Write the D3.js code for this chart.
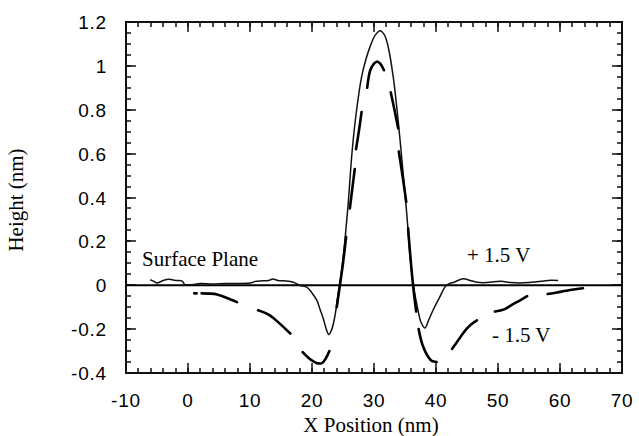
<!DOCTYPE html>
<html>
<head>
<meta charset="utf-8">
<script src="https://cdn.jsdelivr.net/npm/d3@7/dist/d3.min.js"></script>
<style>
  html, body { margin: 0; padding: 0; background: #fff; }
  svg { display: block; }
</style>
</head>
<body>
<svg id="chart" width="639" height="436"></svg>
<script>
// ---- Data ----
const xTicks = [-10, 0, 10, 20, 30, 40, 50, 60, 70];
const xTickLabels = ["-10", "0", "10", "20", "30", "40", "50", "60", "70"];
const yTicks = [-0.4, -0.2, 0, 0.2, 0.4, 0.6, 0.8, 1, 1.2];
const yTickLabels = ["-0.4", "-0.2", "0", "0.2", "0.4", "0.6", "0.8", "1", "1.2"];

// +1.5 V trace (solid)
const posX = [-6.1, -5.5, -5, -4, -3, -2, -1, -0.5, 0, 1, 2, 4, 6, 8, 10, 11, 12, 13, 13.7, 14.5, 15.5, 17, 18,
  19.2, 20, 20.8, 21.3, 21.8, 22.3, 22.7, 23.2, 23.7, 24.1, 24.5, 25, 25.8, 26.5, 27.2, 28, 28.7, 29.4, 30.2,
  31, 31.7, 32.3, 33.1, 33.9, 34.7, 35.3, 35.8, 36.3, 37, 37.6, 38.2, 38.8, 39.5, 40.5, 41.7, 43, 44.4, 45.5,
  46.6, 48, 49, 50.5, 52, 53.5, 55, 57, 58, 59.7];
const posY = [0.025, 0.018, 0.01, 0.022, 0.027, 0.022, 0.02, 0.003, 0.002, 0.004, 0.008, 0.006, 0.008, 0.008, 0.01, 0.018, 0.02, 0.022, 0.028, 0.022, 0.02, 0.014, 0.0,
  -0.01, -0.035, -0.07, -0.11, -0.15, -0.2, -0.225, -0.2, -0.14, -0.06, 0.01, 0.12, 0.36, 0.62, 0.80, 0.95, 1.03, 1.09, 1.14,
  1.16, 1.14, 1.085, 0.95, 0.75, 0.51, 0.32, 0.14, 0.01, -0.1, -0.17, -0.195, -0.16, -0.115, -0.06, 0.0, 0.015, 0.03, 0.022,
  0.014, 0.012, 0.015, 0.018, 0.012, 0.01, 0.012, 0.018, 0.022, 0.022];

// -1.5 V trace (dashed; null marks a gap between dashes)
const negX = [1.0, 1.4, null,
  2.2, 3.5, 4.7, 6.3, 7.9, null,
  11.3, 13.2, 14.8, 16.5, null,
  18.5, 19.6, 20.8, 21.6, 22.3, 22.8, null,
  24.0, 24.5, 25.0, 25.5, null,
  26.1, 26.5, 26.9, null,
  27.1, 27.6, 28.0, null,
  28.9, 29.4, 30.0, 30.5, 31.0, 31.6, null,
  32.7, 33.3, 33.9, null,
  34.0, 34.7, 35.2, null,
  35.5, 35.9, 36.3, 36.8, null,
  37.2, 37.8, 38.6, 39.3, 40.1, null,
  42.6, 43.6, 44.6, 45.6, 46.6, null,
  49.5, 51.0, 52.5, 53.5, 54.7, null,
  58.0, 59.5, 61.0, 62.5, 63.7];
const negY = [-0.037, -0.037, null,
  -0.037, -0.038, -0.042, -0.058, -0.077, null,
  -0.114, -0.137, -0.175, -0.22, null,
  -0.305, -0.335, -0.355, -0.355, -0.33, -0.30, null,
  -0.10, 0.0, 0.10, 0.22, null,
  0.35, 0.44, 0.53, null,
  0.62, 0.71, 0.79, null,
  0.90, 0.98, 1.01, 1.02, 1.01, 0.98, null,
  0.88, 0.80, 0.715, null,
  0.61, 0.48, 0.38, null,
  0.26, 0.12, 0.0, -0.12, null,
  -0.20, -0.27, -0.32, -0.345, -0.35, null,
  -0.29, -0.25, -0.21, -0.18, -0.16, null,
  -0.12, -0.11, -0.085, -0.07, -0.05, null,
  -0.04, -0.033, -0.025, -0.018, -0.014];

// ---- Chart ----
const svg = d3.select("#chart");
const L = 126, R = 622, T = 22, B = 373;
const x = d3.scaleLinear().domain([-10, 70]).range([L, R]);
const y = d3.scaleLinear().domain([-0.4, 1.2]).range([B, T]);

const xMinor = d3.range(-10, 70.001, 2);
const yMinor = d3.range(-0.4, 1.2001, 0.05);

// frame as filled bars (fill rather than stroke)
const frame = svg.append("g").attr("fill", "#111").attr("stroke", "none");
frame.append("rect").attr("x", L - 1).attr("y", T - 1).attr("width", R - L + 2).attr("height", 2);
frame.append("rect").attr("x", L - 1).attr("y", B - 1).attr("width", R - L + 2).attr("height", 2);
frame.append("rect").attr("x", L - 1).attr("y", T - 1).attr("width", 2).attr("height", B - T + 2);
frame.append("rect").attr("x", R - 1).attr("y", T - 1).attr("width", 2).attr("height", B - T + 2);

// inward ticks as thin filled bars, positioned by the scales
function xTickBars(vals, len) {
  vals.forEach(v => {
    const px = Math.round(x(v)) - 0.75;
    frame.append("rect").attr("x", px).attr("y", B - len).attr("width", 1.5).attr("height", len);
    frame.append("rect").attr("x", px).attr("y", T).attr("width", 1.5).attr("height", len);
  });
}
function yTickBars(vals, len) {
  vals.forEach(v => {
    const py = Math.round(y(v)) - 0.75;
    frame.append("rect").attr("x", L).attr("y", py).attr("width", len).attr("height", 1.5);
    frame.append("rect").attr("x", R - len).attr("y", py).attr("width", len).attr("height", 1.5);
  });
}
xTickBars(xMinor, 5);
yTickBars(yMinor, 5);
xTickBars(xTicks, 10);
yTickBars(yTicks, 10);

// zero (surface plane) line
svg.append("line").attr("x1", x(-10)).attr("x2", x(70)).attr("y1", y(0)).attr("y2", y(0))
  .attr("stroke", "#000").attr("stroke-width", 2);

// traces
const posData = posX.map((v, i) => [v, posY[i]]);
const negData = negX.map((v, i) => [v, negY[i]]);
const lineGen = d3.line().defined(d => d[0] !== null && d[1] !== null)
  .x(d => x(d[0])).y(d => y(d[1])).curve(d3.curveCatmullRom.alpha(0.5));

svg.append("path").datum(posData).attr("d", lineGen)
  .attr("fill", "none").attr("stroke", "#111").attr("stroke-width", 1.5).attr("stroke-linejoin", "round");
svg.append("path").datum(negData).attr("d", lineGen)
  .attr("fill", "none").attr("stroke", "#000").attr("stroke-width", 2.6)
  .attr("stroke-linecap", "round").attr("stroke-linejoin", "round");

// tick labels
const sans = "'Liberation Sans', Arial, sans-serif";
svg.append("g").selectAll("text").data(xTicks).join("text")
  .attr("x", d => x(d)).attr("y", 407)
  .attr("text-anchor", "middle").attr("font-family", sans).attr("font-size", 19)
  .attr("letter-spacing", 0.8)
  .text((d, i) => xTickLabels[i]);
svg.append("g").selectAll("text").data(yTicks).join("text")
  .attr("x", 107).attr("y", d => y(d) + 7)
  .attr("text-anchor", "end").attr("font-family", sans).attr("font-size", 19)
  .attr("letter-spacing", 0.8)
  .text((d, i) => yTickLabels[i]);

// annotations
const serif = "'Liberation Serif', 'Times New Roman', serif";
function label(txt, px, py, size) {
  return svg.append("text").attr("x", px).attr("y", py)
    .attr("font-family", serif).attr("font-size", size || 21).attr("fill", "#000").text(txt);
}
label("Surface Plane", 142, 266);
label("+ 1.5 V", 467, 262);
label("- 1.5 V", 492, 342);

// axis titles
label("X Position (nm)", 371, 432, 21).attr("text-anchor", "middle");
svg.append("text").attr("font-family", serif).attr("font-size", 21).attr("text-anchor", "middle")
  .attr("transform", "translate(23,200) rotate(-90)").text("Height (nm)");
</script>
</body>
</html>
